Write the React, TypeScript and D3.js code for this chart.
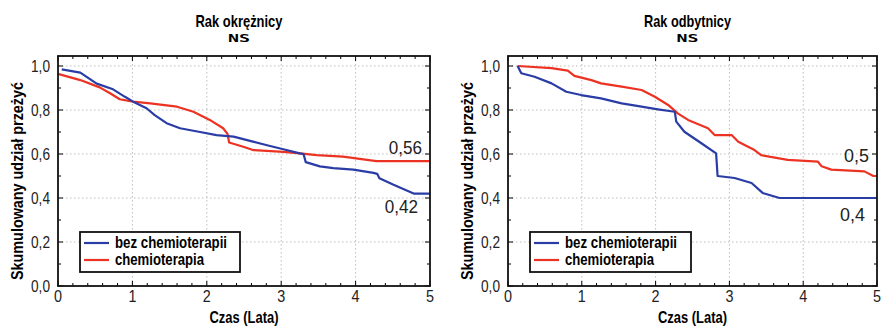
import * as d3 from "d3";

type Pt = [number, number];

// Rak okrężnicy (colon)
const colonNoChemo: Pt[] = [
  [0.05, 0.985], [0.3, 0.97], [0.52, 0.92], [0.74, 0.894], [0.9, 0.86], [1.01, 0.838],
  [1.19, 0.808], [1.3, 0.777], [1.46, 0.74], [1.64, 0.717], [1.91, 0.7], [2.13, 0.686],
  [2.36, 0.679], [2.62, 0.656], [2.81, 0.64], [3.07, 0.618], [3.25, 0.603], [3.3, 0.6],
  [3.33, 0.563], [3.52, 0.544], [3.7, 0.536], [3.97, 0.529], [4.24, 0.514], [4.29, 0.51],
  [4.32, 0.49], [4.51, 0.46], [4.78, 0.42], [5.0, 0.42],
];
const colonChemo: Pt[] = [
  [0.0, 0.964], [0.3, 0.936], [0.56, 0.903], [0.7, 0.876], [0.83, 0.849], [1.01, 0.838],
  [1.24, 0.83], [1.6, 0.815], [1.82, 0.792], [2.04, 0.755], [2.22, 0.717], [2.28, 0.69],
  [2.3, 0.652], [2.49, 0.633], [2.62, 0.618], [3.03, 0.61], [3.25, 0.603], [3.48, 0.595],
  [3.83, 0.588], [4.28, 0.568], [5.0, 0.568],
];

// Rak odbytnicy (rectum)
const rectumNoChemo: Pt[] = [
  [0.13, 1.0], [0.18, 0.967], [0.36, 0.951], [0.59, 0.921], [0.79, 0.883], [0.99, 0.868],
  [1.26, 0.853], [1.54, 0.83], [1.81, 0.815], [2.03, 0.803], [2.26, 0.792], [2.28, 0.747],
  [2.39, 0.701], [2.62, 0.649], [2.82, 0.603], [2.84, 0.5], [3.07, 0.491], [3.3, 0.468],
  [3.45, 0.423], [3.68, 0.4], [5.0, 0.4],
];
const rectumChemo: Pt[] = [
  [0.13, 1.0], [0.59, 0.99], [0.81, 0.979], [0.9, 0.955], [1.13, 0.936], [1.26, 0.921],
  [1.54, 0.906], [1.81, 0.891], [1.99, 0.86], [2.17, 0.823], [2.3, 0.785], [2.44, 0.755],
  [2.71, 0.717], [2.8, 0.686], [3.03, 0.686], [3.12, 0.656], [3.34, 0.618], [3.43, 0.595],
  [3.79, 0.573], [4.2, 0.565], [4.25, 0.544], [4.38, 0.529], [4.83, 0.521], [4.95, 0.5],
  [5.0, 0.5],
];

const xTicks = [0, 1, 2, 3, 4, 5];
const yTicks = [0, 0.2, 0.4, 0.6, 0.8, 1.0];
const seriesNames = ["bez chemioterapii", "chemioterapia"];
const seriesWidths = [112, 89];

const BLUE = "#2a3da6";
const RED = "#ec3323";
const FONT = "'Liberation Sans', Arial, sans-serif";

type PanelProps = {
  left: number;
  right: number;
  title: string;
  blue: Pt[];
  red: Pt[];
  redLabel: string;
  blueLabel: string;
  redLabelY: number;
  blueLabelY: number;
  yLabelX: number;
  legendW: number;
};

function Panel(p: PanelProps) {
  const top = 56;
  const bottom = 286;
  const x = d3.scaleLinear().domain([0, 5]).range([p.left, p.right]);
  const y = d3.scaleLinear().domain([0, 1.0455]).range([bottom, top]);
  const line = d3
    .line<Pt>()
    .x((d) => x(d[0]))
    .y((d) => y(d[1]));
  const fmt = (v: number) => v.toFixed(1).replace(".", ",");
  const xMinor = d3.range(0, 5.001, 0.2);
  const yMinor = d3.range(0, 1.0455, 0.1);
  const cx = (p.left + p.right) / 2;
  const legX = p.left + 22;
  const legY = 232;

  return (
    <g>
      <text x={cx - 5} y={27} textAnchor="middle" fontFamily={FONT} fontWeight="bold" fontSize={17}
        textLength={87} lengthAdjust="spacingAndGlyphs">
        {p.title}
      </text>
      <text x={cx - 5} y={42} textAnchor="middle" fontFamily="'DejaVu Sans Mono', monospace" fontWeight="bold" fontSize={11}
        textLength={22} lengthAdjust="spacingAndGlyphs">
        NS
      </text>

      {xTicks.slice(1, -1).map((t) => (
        <line key={"gx" + t} x1={x(t)} x2={x(t)} y1={top} y2={bottom} stroke="#bdbdbd" strokeDasharray="1.5,2.5" />
      ))}
      {yTicks.slice(1).map((t) => (
        <line key={"gy" + t} x1={p.left} x2={p.right} y1={y(t)} y2={y(t)} stroke="#bdbdbd" strokeDasharray="1.5,2.5" />
      ))}

      {xMinor.map((t, i) => (
        <g key={"xm" + i}>
          <line x1={x(t)} x2={x(t)} y1={bottom} y2={bottom - (i % 5 === 0 ? 5 : 3)} stroke="#000" />
          <line x1={x(t)} x2={x(t)} y1={top} y2={top + (i % 5 === 0 ? 5 : 3)} stroke="#000" />
        </g>
      ))}
      {yMinor.map((t, i) => (
        <g key={"ym" + i}>
          <line x1={p.left} x2={p.left + (i % 2 === 0 ? 5 : 3)} y1={y(t)} y2={y(t)} stroke="#000" />
          <line x1={p.right} x2={p.right - (i % 2 === 0 ? 5 : 3)} y1={y(t)} y2={y(t)} stroke="#000" />
        </g>
      ))}

      <path d={line(p.red) ?? ""} fill="none" stroke={RED} strokeWidth={2.2} strokeLinejoin="round" />
      <path d={line(p.blue) ?? ""} fill="none" stroke={BLUE} strokeWidth={2.2} strokeLinejoin="round" />

      <rect x={p.left} y={top} width={p.right - p.left} height={bottom - top} fill="none" stroke="#111" strokeWidth={1.8} />

      {xTicks.map((t) => (
        <text key={"xt" + t} x={x(t)} y={bottom + 16} textAnchor="middle" fontFamily={FONT} fontSize={16} fill="#222"
          textLength={8} lengthAdjust="spacingAndGlyphs">
          {t}
        </text>
      ))}
      {yTicks.map((t) => (
        <text key={"yt" + t} x={p.left - 8} y={y(t) + 6} textAnchor="end" fontFamily={FONT} fontSize={16} fill="#222"
          textLength={19} lengthAdjust="spacingAndGlyphs">
          {fmt(t)}
        </text>
      ))}

      <text x={cx} y={323} textAnchor="middle" fontFamily={FONT} fontWeight="bold" fontSize={17}
        textLength={69} lengthAdjust="spacingAndGlyphs">
        Czas (Lata)
      </text>
      <text
        transform={`translate(${p.yLabelX},${(top + bottom) / 2 + 10}) rotate(-90)`}
        textAnchor="middle"
        fontFamily={FONT}
        fontWeight="bold"
        fontSize={16}
        textLength={198}
        lengthAdjust="spacingAndGlyphs"
      >
        Skumulowany udział przeżyć
      </text>

      <text x={p.right - 8} y={p.redLabelY} textAnchor="end" fontFamily={FONT} fontSize={18} fill="#222"
        textLength={p.redLabel.length * 8.3} lengthAdjust="spacingAndGlyphs">
        {p.redLabel}
      </text>
      <text x={p.right - 12} y={p.blueLabelY} textAnchor="end" fontFamily={FONT} fontSize={18} fill="#222"
        textLength={p.blueLabel.length * 8.3} lengthAdjust="spacingAndGlyphs">
        {p.blueLabel}
      </text>

      <rect x={legX} y={legY} width={p.legendW} height={40} fill="#fff" stroke="#111" strokeWidth={1.8} />
      {seriesNames.map((s, i) => (
        <g key={s}>
          <line x1={legX + 4} x2={legX + 29} y1={legY + 11 + i * 17} y2={legY + 11 + i * 17} stroke={i === 0 ? BLUE : RED} strokeWidth={2.2} />
          <text x={legX + 35} y={legY + 16 + i * 17} fontFamily={FONT} fontWeight="bold" fontSize={16}
            textLength={seriesWidths[i]} lengthAdjust="spacingAndGlyphs">
            {s}
          </text>
        </g>
      ))}
    </g>
  );
}

export default function App() {
  return (
    <svg width={882} height={326} style={{ position: "absolute", left: 0, top: 0, background: "#fff" }}>
      <Panel
        left={58}
        right={430}
        title="Rak okrężnicy"
        blue={colonNoChemo}
        red={colonChemo}
        redLabel="0,56"
        blueLabel="0,42"
        redLabelY={154}
        blueLabelY={213}
        yLabelX={23}
        legendW={160}
      />
      <Panel
        left={508}
        right={877}
        title="Rak odbytnicy"
        blue={rectumNoChemo}
        red={rectumChemo}
        redLabel="0,5"
        blueLabel="0,4"
        redLabelY={162}
        blueLabelY={221}
        yLabelX={473}
        legendW={161}
      />
    </svg>
  );
}
